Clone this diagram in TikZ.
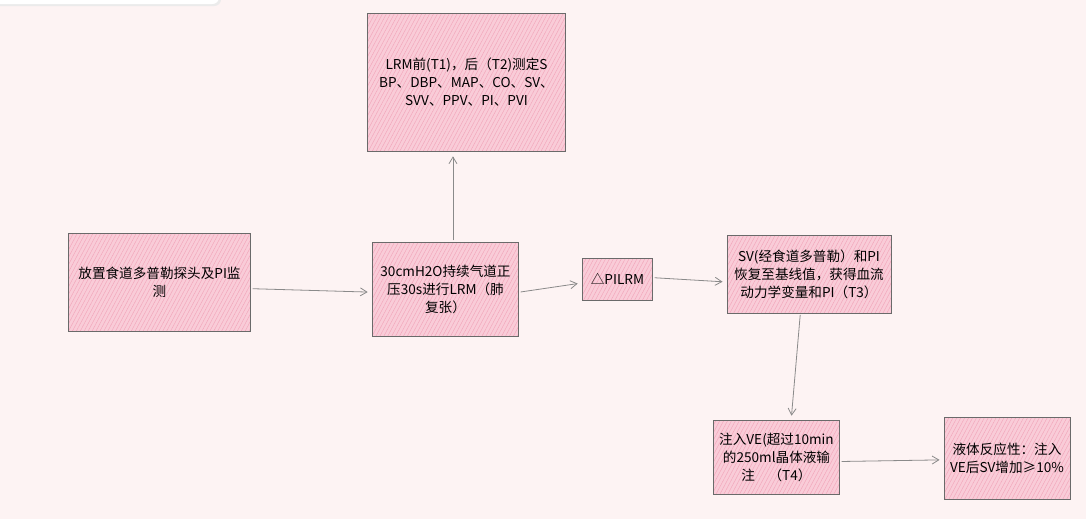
\documentclass[tikz,border=0pt]{standalone}
\usepackage{fontspec}
\setmainfont{Noto Sans CJK SC}
\usetikzlibrary{arrows.meta, patterns.meta}

\definecolor{canvas}{HTML}{FDF3F3}
\definecolor{boxfill}{HTML}{F9CCD8}
\definecolor{hatch}{HTML}{F2A6BA}
\definecolor{boxline}{HTML}{6A6A6A}
\definecolor{arrowgray}{HTML}{8A8A8A}

\tikzset{
	stepbox/.style={draw=boxline, line width=0.7pt,
		preaction={fill=boxfill},
		preaction={pattern={Lines[angle=62,distance=2.6pt,line width=0.35pt]}, pattern color=hatch},
		align=center, inner sep=2pt, font=\fontsize{10.2}{13.5}\selectfont},
	flow/.style={draw=arrowgray, line width=0.6pt, -{Straight Barb[length=5pt,width=6pt]}, shorten >=3pt, shorten <=1pt}
}

\begin{document}
\begin{tikzpicture}[x=0.75pt, y=-0.75pt]
	
	% Canvas
	\fill[canvas] (0,0) rectangle (1086,519);
	\useasboundingbox (0,0) rectangle (1086,519);
	\fill[black!8, rounded corners=5pt] (-10,-10) rectangle (221,6);
	\fill[white, rounded corners=5pt] (-10,-10) rectangle (219,4);
	
	% Measurement box (top)
	\node[stepbox, minimum width=148pt, minimum height=104pt] (measure) at (466.5,82.5)
		{LRM前(T1)，后（T2)测定S\\BP、DBP、MAP、CO、SV、\\SVV、PPV、PI、PVI};
	
	% Main row
	\node[stepbox, minimum width=137pt, minimum height=73.5pt] (probe) at (159.5,282)
		{放置食道多普勒探头及PI监\\测};
	\node[stepbox, minimum width=110pt, minimum height=71pt] (lrm) at (445.5,289.5)
		{30cmH2O持续气道正\\压30s进行LRM（肺\\复张）};
	\node[stepbox, minimum width=53pt, minimum height=31.5pt] (dpi) at (617.5,279)
		{△PILRM};
	\node[stepbox, minimum width=123pt, minimum height=58.5pt] (recover) at (809,274)
		{SV(经食道多普勒）和PI\\恢复至基线值，获得血流\\动力学变量和PI（T3）};
	
	% Bottom row
	\node[stepbox, minimum width=95pt, minimum height=56pt] (infuse) at (776.5,457.5)
		{注入VE(超过10min\\的250ml晶体液输\\注\quad（T4）};
	\node[stepbox, minimum width=94.5pt, minimum height=61pt] (respond) at (1007,458.5)
		{液体反应性：注入\\VE后SV增加≥10\%};
	
	% Connectors
	\draw[flow] ([yshift=-5pt]probe.east) -- ([yshift=-2pt]lrm.west);
	\draw[flow] ([xshift=5.6pt]lrm.north) -- ([xshift=5.6pt]lrm.north |- measure.south);
	\draw[flow] ([yshift=-2pt]lrm.east) -- ([yshift=-3pt]dpi.west);
	\draw[flow] ([yshift=1pt]dpi.east) -- ([yshift=-6pt]recover.west);
	\draw[flow] ([xshift=-6.5pt]recover.south) -- ([xshift=11pt]infuse.north);
	\draw[flow] ([yshift=-3pt]infuse.east) -- ([yshift=-1pt]respond.west);
	
\end{tikzpicture}
\end{document}
